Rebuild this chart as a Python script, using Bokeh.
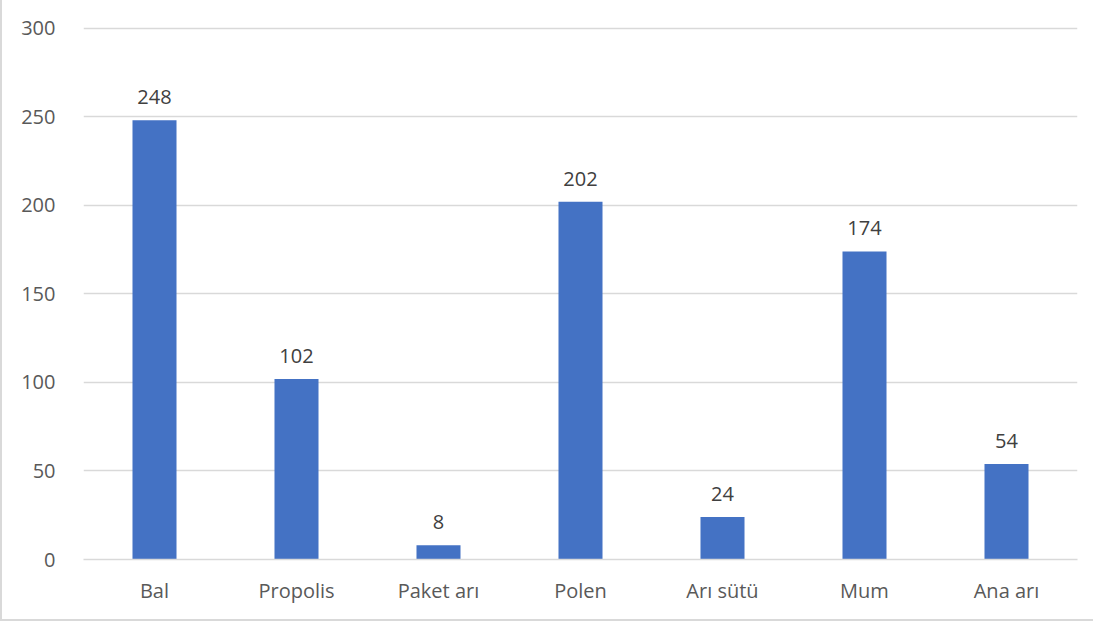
from bokeh.plotting import figure
from bokeh.models import ColumnDataSource, LabelSet, FixedTicker
from bokeh.core.properties import value
from bokeh.embed import file_html
from bokeh.resources import INLINE

categories = ["Bal", "Propolis", "Paket arı", "Polen", "Arı sütü", "Mum", "Ana arı"]
values = [248, 102, 8, 202, 24, 174, 54]
y_ticks = [0, 50, 100, 150, 200, 250, 300]

FONT = "Open Sans"
TXT = "#595959"

src = ColumnDataSource(dict(cat=categories, val=values, lbl=[str(v) for v in values]))

p = figure(x_range=categories, y_range=(0, 301), width=1093, height=621,
           output_backend="svg", toolbar_location=None,
           min_border_left=81, min_border_right=18, min_border_top=26, min_border_bottom=62,
           styles={"border-left": "2px solid #d9d9d9", "border-bottom": "2px solid #d9d9d9"})
p.x_range.range_padding = 0

p.vbar(x="cat", top="val", width=0.31, source=src, color="#4472C4", line_color=None)

labels = LabelSet(x="cat", y="val", text="lbl", source=src, text_align="center",
                  text_baseline="bottom", y_offset=16, text_font_size="20px",
                  text_color="#404040", text_font=value(FONT))
p.add_layout(labels)

p.outline_line_color = None
p.xgrid.grid_line_color = None
p.ygrid.grid_line_color = "#d9d9d9"
p.ygrid.grid_line_width = 1.5
p.yaxis.ticker = FixedTicker(ticks=y_ticks)
for ax in (p.xaxis, p.yaxis):
    ax.axis_line_color = None
    ax.major_tick_line_color = None
    ax.minor_tick_line_color = None
    ax.major_label_text_font = FONT
    ax.major_label_text_font_size = "20px"
    ax.major_label_text_color = TXT
p.xaxis.axis_line_color = "#d9d9d9"
p.xaxis.axis_line_width = 1.5
p.xaxis.major_label_standoff = 11
p.yaxis.major_label_standoff = 22

open("out.html", "w").write(file_html(p, INLINE))
